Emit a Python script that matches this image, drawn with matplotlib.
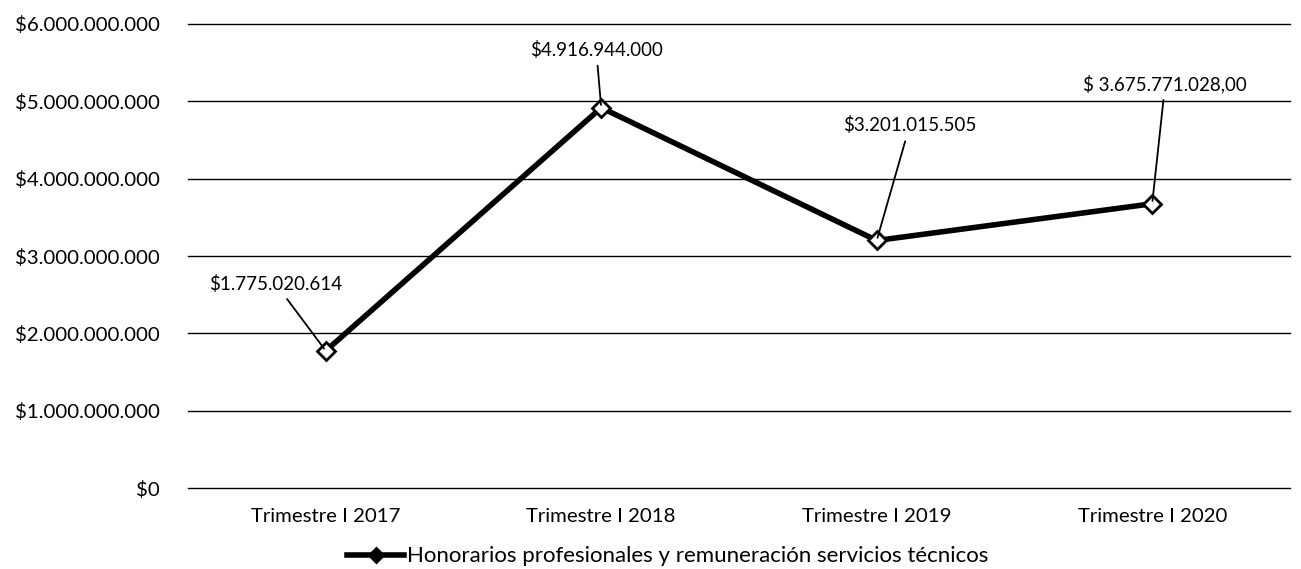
import matplotlib.pyplot as plt
from matplotlib.ticker import FuncFormatter

categories = ["Trimestre I 2017", "Trimestre I 2018", "Trimestre I 2019", "Trimestre I 2020"]
values = [1775020614, 4916944000, 3201015505, 3675771028]
value_labels = ["$1.775.020.614", "$4.916.944.000", "$3.201.015.505", "$ 3.675.771.028,00"]
label_offsets = [(-50, 67), (-5, 58), (33, 115), (13, 120)]  # pixels from point
series_name = "Honorarios profesionales y remuneración servicios técnicos"

plt.rcParams['font.family'] = ['Lato', 'DejaVu Sans']

fig = plt.figure(figsize=(13.01, 5.69), dpi=100)
ax = fig.add_axes([0.1445, 0.142, 0.847, 0.816])

x = range(len(categories))
ax.plot(x, values, color='black', lw=4, marker='D', markersize=9,
        markerfacecolor='white', markeredgecolor='black', markeredgewidth=2,
        label=series_name, zorder=3)

for xi, v, lab, off in zip(x, values, value_labels, label_offsets):
    ax.annotate(lab, xy=(xi, v), xytext=off, textcoords='offset pixels',
                ha='center', va='center', fontsize=13.5,
                arrowprops=dict(arrowstyle='-', color='black', lw=1.3,
                                shrinkA=3, shrinkB=2))

ax.set_xlim(-0.5, len(categories) - 0.5)
ax.set_ylim(0, 6e9)
ax.set_yticks([i * 1e9 for i in range(7)])
ax.yaxis.set_major_formatter(FuncFormatter(lambda v, p: "$" + f"{int(v):,}".replace(",", ".")))
ax.set_xticks(list(x))
ax.set_xticklabels(categories)
ax.tick_params(axis='both', length=0, labelsize=14.7)
ax.tick_params(axis='y', pad=20)
ax.tick_params(axis='x', pad=14)
ax.grid(axis='y', color='black', lw=1)
for gl in ax.get_ygridlines():
    gl.set_clip_on(False)
ax.set_axisbelow(True)
for s in ax.spines.values():
    s.set_visible(False)

leg = ax.legend(loc='center', bbox_to_anchor=(0.435, -0.147), frameon=False,
                fontsize=16, handlelength=2.6, handletextpad=0.1,
                borderpad=0, borderaxespad=0)
for h in leg.legend_handles:
    h.set_markerfacecolor('black')
    h.set_markersize(7)

fig.savefig("out.png", dpi=100)
